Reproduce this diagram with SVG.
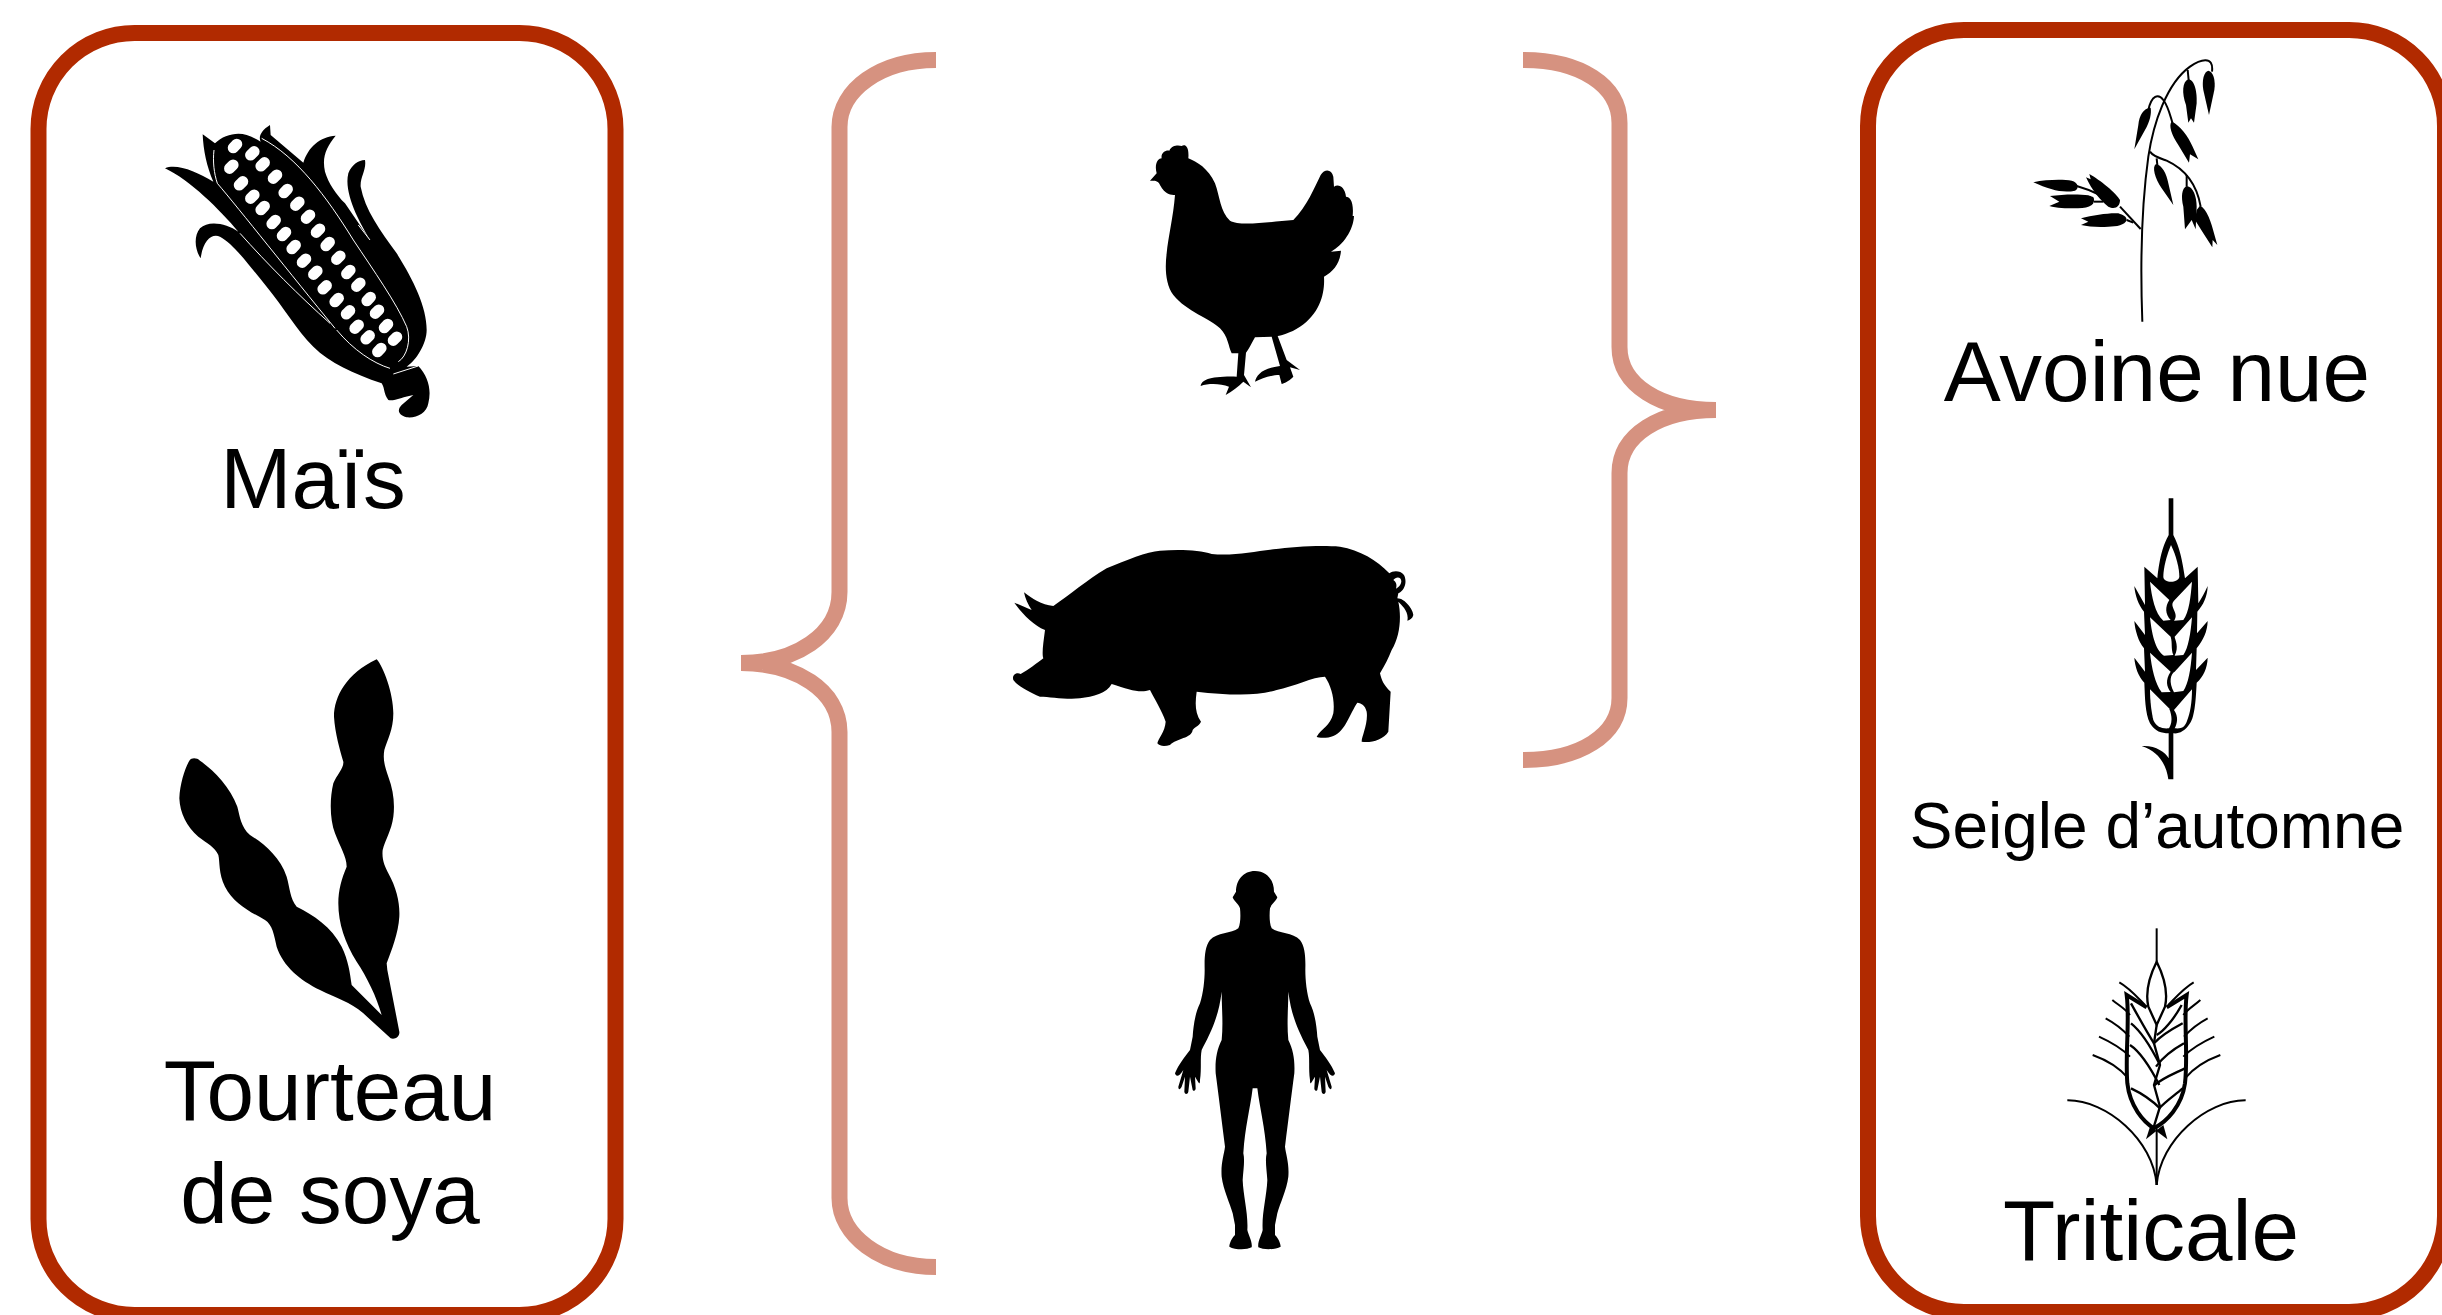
<svg xmlns="http://www.w3.org/2000/svg" xmlns:xlink="http://www.w3.org/1999/xlink" width="2442" height="1315" viewBox="0 0 2442 1315">
<style>
.frame{fill:#fff;stroke:#B12A00;stroke-width:16}
.brace{fill:none;stroke:#D69280;stroke-width:16}
.lbl{font-family:"Liberation Sans",Arial,sans-serif;fill:#000;text-anchor:middle}
.big{font-size:85.500px}
.small{font-size:64px}
.ic{fill:#000}
.wl{fill:none;stroke:#fff;stroke-width:3}
.hole{fill:#fff}
.st{fill:none;stroke:#000;stroke-linecap:butt;stroke-linejoin:miter}
</style>
<defs>
<rect id="k" x="-24" y="-16.500" width="48" height="33" rx="16.500" fill="#fff" transform="rotate(-45)"/>
</defs>
<rect width="2442" height="1315" fill="#fff"/>
<g id="box-left"><rect class="frame" x="38.500" y="33" width="577" height="1282" rx="96" ry="96"/></g>
<g id="box-right"><rect class="frame" x="1868" y="30" width="577" height="1282" rx="96" ry="96"/></g>
<g id="connectors">
<path class="brace" d="M936,60 C880,60 839.500,90 839.500,127 V592 C839.500,635 795,663 741,663 C795,663 839.500,690 839.500,732 V1198 C839.500,1235 880,1267 936,1267"/>
<path class="brace" d="M1523,60 C1580,60 1619.500,85 1619.500,123 V347 C1619.500,385 1660,410 1716,410 C1660,410 1619.500,435 1619.500,473 V698 C1619.500,735 1580,760 1523,760"/>
</g>
<g id="mais">
<g transform="translate(140,100) scale(.33333)">
<path class="ic" d="M188,103 L225,130 C250,105 290,95 320,105 C335,110 350,118 362,125 C355,112 362,92 390,75 L392,105 L490,188 C505,140 540,110 587,107 C560,140 545,170 555,215 C565,250 590,285 615,310 L690,420 C660,370 610,280 625,220 C635,195 655,180 675,180 C680,210 660,230 662,260 C675,330 720,390 770,460 C820,540 860,620 860,690 C860,730 830,780 800,800 L835,798 C865,830 875,870 865,910 C860,940 830,955 800,952 C775,945 770,930 785,915 L820,885 C790,890 760,905 745,900 C730,880 735,865 725,850 C640,820 570,790 520,740 C470,690 430,620 380,560 C330,500 280,430 240,410 C215,400 190,420 182,475 C165,450 160,410 180,385 C205,360 260,370 295,395 C240,330 150,240 75,205 C110,190 170,215 220,245 C200,200 190,150 188,103Z"/>
<path class="wl" d="M222,150 C218,185 222,220 232,250 C300,330 450,520 585,685"/>
<path class="wl" d="M300,400 C380,490 480,590 570,670"/>
<path class="wl" d="M590,690 C640,750 700,790 750,805"/>
<path class="wl" d="M365,115 C470,170 560,290 640,420 C700,510 770,610 800,680 C815,720 800,770 775,785"/>
<path class="wl" d="M760,822 L835,798"/>
<path class="wl" d="M690,420 L655,375"/>
<use href="#k" x="285" y="138"/><use href="#k" x="337" y="160"/><use href="#k" x="368" y="193"/><use href="#k" x="405" y="230"/><use href="#k" x="437" y="273"/><use href="#k" x="472" y="311"/><use href="#k" x="504" y="350"/><use href="#k" x="534" y="392"/><use href="#k" x="563" y="432"/><use href="#k" x="595" y="473"/><use href="#k" x="625" y="516"/><use href="#k" x="655" y="554"/><use href="#k" x="686" y="597"/><use href="#k" x="711" y="635"/><use href="#k" x="738" y="678"/><use href="#k" x="765" y="716"/><use href="#k" x="718" y="750"/>
<use href="#k" x="274" y="200"/><use href="#k" x="303" y="250"/><use href="#k" x="337" y="290"/><use href="#k" x="368" y="324"/><use href="#k" x="401" y="366"/><use href="#k" x="432" y="402"/><use href="#k" x="461" y="441"/><use href="#k" x="492" y="482"/><use href="#k" x="526" y="518"/><use href="#k" x="554" y="562"/><use href="#k" x="590" y="600"/><use href="#k" x="624" y="637"/><use href="#k" x="650" y="680"/><use href="#k" x="683" y="712"/>
</g>
<text class="lbl big" x="313" y="508">Maïs</text>
</g>
<g id="soya">
<path class="ic" transform="translate(150,640) scale(.33333)" d="M680,58 C700,80 730,160 730,220 C730,270 712,300 703,330 C698,360 705,380 715,410 C730,450 735,490 730,530 C725,570 705,600 698,630 C695,660 705,680 715,700 C740,745 750,790 748,830 C745,880 725,930 710,970 L712,990 L748,1175 C750,1190 735,1200 722,1195 L640,1120 C600,1085 560,1075 510,1050 C450,1020 400,980 380,920 C372,885 368,855 345,840 C300,815 250,790 225,740 C205,700 210,665 205,645 C195,620 170,610 145,590 C110,560 90,520 88,475 C90,430 105,385 118,362 C125,352 140,353 150,362 C190,390 240,440 262,500 C270,530 272,560 300,585 C340,610 390,650 410,710 C420,745 420,775 440,800 C490,825 545,860 575,920 C595,960 600,1000 605,1035 L695,1125 C680,1070 650,1010 620,965 C585,910 565,850 565,790 C565,750 575,715 590,680 C590,650 570,620 555,580 C540,540 538,480 550,430 C560,405 582,385 580,365 C570,330 555,280 552,230 C552,170 590,100 680,58Z"/>
<text class="lbl big" x="330" y="1120">Tourteau</text>
<text class="lbl big" x="330" y="1223">de soya</text>
</g>
<g id="poule">
<path class="ic" transform="translate(1130,130) scale(.33333)" d="M60,152 L80,130 C72,100 85,85 95,85 C92,70 105,60 118,62 C125,45 145,45 155,48 C165,42 178,48 175,85 C200,95 235,115 255,160 C270,200 270,245 300,272 C330,290 420,275 490,270 C530,230 555,170 572,135 C585,115 605,118 610,140 L612,170 C625,160 645,170 648,200 C660,200 672,215 668,258 L672,258 C670,300 640,345 603,365 L633,362 C630,400 610,425 582,440 C585,490 570,550 510,590 C480,610 455,615 443,618 L470,690 L510,720 L480,712 L490,740 C475,755 462,760 455,762 L448,735 C425,735 395,745 375,755 C380,735 395,715 450,708 L425,620 L375,622 C365,640 355,660 348,668 L342,735 L363,772 L340,755 C325,770 305,785 287,795 L297,770 C270,760 235,760 212,768 C215,750 240,738 320,740 L325,670 L305,670 C295,650 295,620 270,595 C240,565 170,545 130,495 C105,460 105,410 110,370 C115,320 130,260 135,195 C125,195 105,195 90,165 C85,150 70,152 60,152Z"/>
</g>
<g id="porc">
<g transform="translate(1000,530) scale(.33333)">
<path class="ic" d="M72,187 C95,205 125,225 160,228 C210,195 260,150 320,115 C380,90 440,65 480,62 C540,58 600,60 635,72 C700,78 760,65 820,58 C880,50 960,45 1020,50 C1080,60 1130,90 1168,130 C1178,122 1200,120 1212,135 C1222,155 1215,180 1195,190 L1192,205 C1215,205 1240,240 1240,255 C1238,265 1230,270 1222,272 C1228,245 1205,225 1195,215 C1205,260 1200,320 1175,360 C1165,385 1155,405 1140,430 C1145,450 1150,465 1172,485 L1165,605 C1150,630 1110,640 1085,635 C1085,620 1105,580 1100,545 C1095,525 1085,520 1072,518 C1050,550 1035,605 1000,618 C985,625 955,625 950,620 C965,595 990,590 1000,550 C1005,510 995,470 975,440 C940,440 880,470 830,480 C770,500 680,495 590,485 C585,520 585,550 603,575 C595,590 585,590 578,600 C575,625 530,625 510,645 C495,650 480,650 472,640 C475,625 495,605 497,575 C485,540 465,510 450,480 C420,490 390,480 335,462 C320,490 280,500 240,505 C200,510 150,500 120,500 C85,485 50,465 40,450 C35,435 50,425 62,432 C85,420 110,400 130,385 C125,370 130,340 135,300 C100,285 70,255 43,218 C60,225 80,235 95,240 C85,225 75,205 72,187Z"/>
<path class="hole" d="M1180,150 C1188,138 1205,140 1204,155 C1203,165 1195,172 1188,176 C1192,165 1188,155 1180,150Z"/>
</g>
</g>
<g id="humain">
<path class="ic" transform="translate(1160,860) scale(.33333)" d="M285,33 C320,33 342,60 342,95 L352,112 C348,125 335,130 330,145 C328,165 328,190 335,205 C355,220 400,218 420,240 C435,260 437,290 436,330 C436,360 440,400 450,430 C465,460 470,500 472,530 L480,570 C495,590 515,615 525,640 C522,652 512,650 500,630 L515,680 C515,690 510,690 505,680 L495,650 L497,695 C495,705 487,703 485,695 L480,650 L472,690 C468,695 463,692 463,685 L465,650 C455,665 450,680 450,660 C445,625 450,595 445,570 C425,530 395,480 385,395 C385,440 380,490 385,540 C400,570 405,600 403,640 C395,700 385,780 375,860 C378,885 388,910 385,950 C380,990 360,1030 352,1060 L345,1095 L345,1125 C355,1135 362,1150 362,1160 C345,1170 310,1170 295,1162 C292,1145 305,1125 308,1110 C305,1060 320,1010 322,960 C320,930 315,900 320,880 C315,800 300,750 292,685 L278,685 C270,750 255,800 250,880 C255,900 250,930 248,960 C250,1010 265,1060 262,1110 C265,1125 278,1145 275,1162 C260,1170 225,1170 208,1160 C208,1150 215,1135 225,1125 L225,1095 L218,1060 C210,1030 190,990 185,950 C182,910 192,885 195,860 C185,780 175,700 167,640 C165,600 170,570 185,540 C190,490 185,440 185,395 C175,480 145,530 125,570 C120,595 125,625 120,660 C120,680 115,665 105,650 L107,685 C107,692 102,695 98,690 L90,650 L85,695 C83,703 75,705 73,695 L75,650 L65,680 C60,690 55,690 55,680 L70,630 C58,650 48,652 45,640 C55,615 75,590 90,570 L98,530 C100,500 105,460 120,430 C130,400 134,360 134,330 C133,290 135,260 150,240 C170,218 215,220 235,205 C242,190 242,165 240,145 C235,130 222,125 218,112 L228,95 C228,60 250,33 285,33Z"/>
</g>
<g id="avoine">
<g transform="translate(2020,50) scale(.33333)">
<g class="st" stroke-width="6">
<path d="M367,815 C362,680 360,500 385,320 C400,220 440,100 510,50 C540,28 582,15 576,65"/>
<path d="M385,180 C395,135 415,130 430,150 C445,170 450,195 458,220"/>
<path d="M503,60 L506,90"/>
<path d="M390,305 C400,320 420,325 440,332 C490,355 530,400 542,470"/>
<path d="M410,325 L412,345"/>
<path d="M500,375 L500,410"/>
<path d="M362,537 L300,470"/>
<path d="M240,435 C220,425 195,415 170,408"/>
<path d="M222,455 L250,455"/>
<path d="M320,510 L340,518"/>
</g>
<path class="ic" d="M565,62 C580,65 587,90 583,120 L567,195 L550,120 C545,90 552,65 565,62Z"/>
<path class="ic" d="M505,88 C525,90 532,130 530,160 L522,218 L513,205 L505,218 L498,165 C485,130 487,95 505,88Z"/>
<path class="ic" d="M392,173 C370,175 358,195 355,225 L343,298 L375,240 C390,215 395,190 392,173Z"/>
<path class="ic" d="M455,215 C480,225 505,260 518,290 L535,328 L510,313 L507,338 L475,285 C455,255 445,225 455,215Z"/>
<path class="ic" d="M408,342 C425,345 440,370 445,400 L460,465 L425,415 C405,385 395,350 408,342Z"/>
<path class="ic" d="M500,408 C520,410 530,440 530,470 L527,538 L515,510 L495,538 L490,470 C483,440 485,415 500,408Z"/>
<path class="ic" d="M540,467 C560,475 575,520 582,550 L592,585 L578,570 L577,592 L550,550 L525,510 L530,480Z"/>
<path class="ic" d="M40,397 C80,388 130,388 155,392 C175,397 178,415 165,422 C130,430 90,420 40,397Z"/>
<path class="ic" d="M222,447 C225,470 200,475 160,475 C140,475 110,475 88,468 L118,455 L90,438 C130,432 180,432 205,436 C215,440 222,440 222,447Z"/>
<path class="ic" d="M300,450 C300,470 285,480 265,470 C240,450 215,420 198,382 L212,388 L208,372 C240,390 290,430 300,450Z"/>
<path class="ic" d="M320,510 C315,525 290,530 265,530 C235,532 205,530 183,525 L205,515 L183,505 C220,495 270,488 295,490 C310,495 320,500 320,510Z"/>
</g>
<text class="lbl big" x="2157" y="401">Avoine nue</text>
</g>
<g id="seigle">
<g transform="translate(2100,490) scale(.33333)">
<path class="ic" d="M206,25 H220 V135 C235,165 245,195 255,265 L293,230 L295,340 C305,325 315,305 323,288 C322,320 310,345 292,365 L291,430 L323,393 C322,425 310,450 290,475 L288,540 L323,503 C322,535 310,560 290,578 C288,620 285,680 270,700 C255,725 235,732 220,730 V868 H205 C200,830 180,785 125,768 C165,765 195,785 206,805 V730 C185,730 165,725 150,700 C135,670 135,620 133,578 C115,560 105,530 103,503 L135,545 L132,475 C115,455 105,420 103,393 L135,435 L132,365 C115,345 105,315 103,288 L135,345 L133,230 L172,265 C180,195 190,165 206,135Z"/>
<path class="hole" d="M213,165 C228,195 238,235 238,260 C235,280 190,280 190,260 C190,235 200,195 213,165Z"/>
<path class="hole" d="M150,275 L208,330 C195,350 195,372 212,390 L190,392 C165,370 155,320 150,275Z"/>
<path class="hole" d="M276,275 C272,320 268,365 250,390 L222,392 C240,370 205,350 222,332Z"/>
<path class="hole" d="M150,382 L212,440 C218,460 212,475 220,495 L192,497 C165,480 155,430 150,382Z"/>
<path class="hole" d="M276,382 C272,430 265,475 250,495 L224,497 C238,470 225,450 224,440Z"/>
<path class="hole" d="M150,488 L212,545 C195,570 200,590 212,606 L185,607 C165,580 155,535 150,488Z"/>
<path class="hole" d="M276,488 C272,540 265,580 250,603 L222,607 C205,575 212,552 224,545Z"/>
<path class="hole" d="M150,598 L207,655 C218,680 216,700 207,715 C185,717 168,710 160,690 C155,670 150,635 150,598Z"/>
<path class="hole" d="M276,598 C276,640 270,670 262,690 C255,712 245,717 224,715 C232,700 236,680 222,660Z"/>
</g>
<text class="lbl small" x="2157" y="848">Seigle d’automne</text>
</g>
<g id="triticale">
<g transform="translate(2050,920) scale(.33333)">
<g class="st" stroke-width="6">
<path d="M320,25 V125"/>
<path d="M320,625 V795"/>
<path d="M52,541 C170,540 310,660 320,795"/>
<path d="M587,541 C470,540 330,660 320,795"/>
<path d="M208,187 C240,205 265,235 285,255"/>
<path d="M187,240 C205,255 225,265 240,285"/>
<path d="M167,295 C195,310 220,330 238,350"/>
<path d="M147,350 C180,365 215,385 240,410"/>
<path d="M128,405 C170,420 210,445 235,475"/>
<path d="M431,187 C400,205 375,235 355,255"/>
<path d="M451,240 C435,255 415,265 400,285"/>
<path d="M473,295 C445,310 420,330 402,350"/>
<path d="M493,350 C460,365 425,385 400,410"/>
<path d="M511,405 C470,420 430,445 405,475"/>
</g>
<g class="st" stroke-width="12">
<path d="M290,262 L230,225 C240,300 225,400 232,490 C240,560 280,605 312,625 C350,605 395,560 405,490 C415,400 400,300 410,225 L350,262"/>
</g>
<g class="st" stroke-width="7">
<path d="M320,125 C300,165 285,215 295,260 L320,315 L345,260 C355,215 340,165 320,125Z" fill="#fff"/>
<path d="M320,315 L312,370 L330,435 L312,495 L330,560 L310,625"/>
<path d="M243,250 C265,290 290,335 312,370"/>
<path d="M243,310 C275,335 305,385 330,435"/>
<path d="M240,375 C270,395 305,450 328,495"/>
<path d="M243,505 C275,520 305,540 330,565"/>
<path d="M395,255 C370,300 340,335 320,345"/>
<path d="M398,310 C370,325 335,345 312,370"/>
<path d="M402,370 C375,385 340,410 318,440"/>
<path d="M405,445 C375,460 335,475 312,497"/>
<path d="M398,505 C375,525 345,545 328,565"/>
</g>
<path class="ic" d="M300,620 L288,658 L320,632Z"/>
<path class="ic" d="M340,615 L352,658 L318,632Z"/>
</g>
<text class="lbl big" x="2151" y="1260">Triticale</text>
</g>
</svg>
